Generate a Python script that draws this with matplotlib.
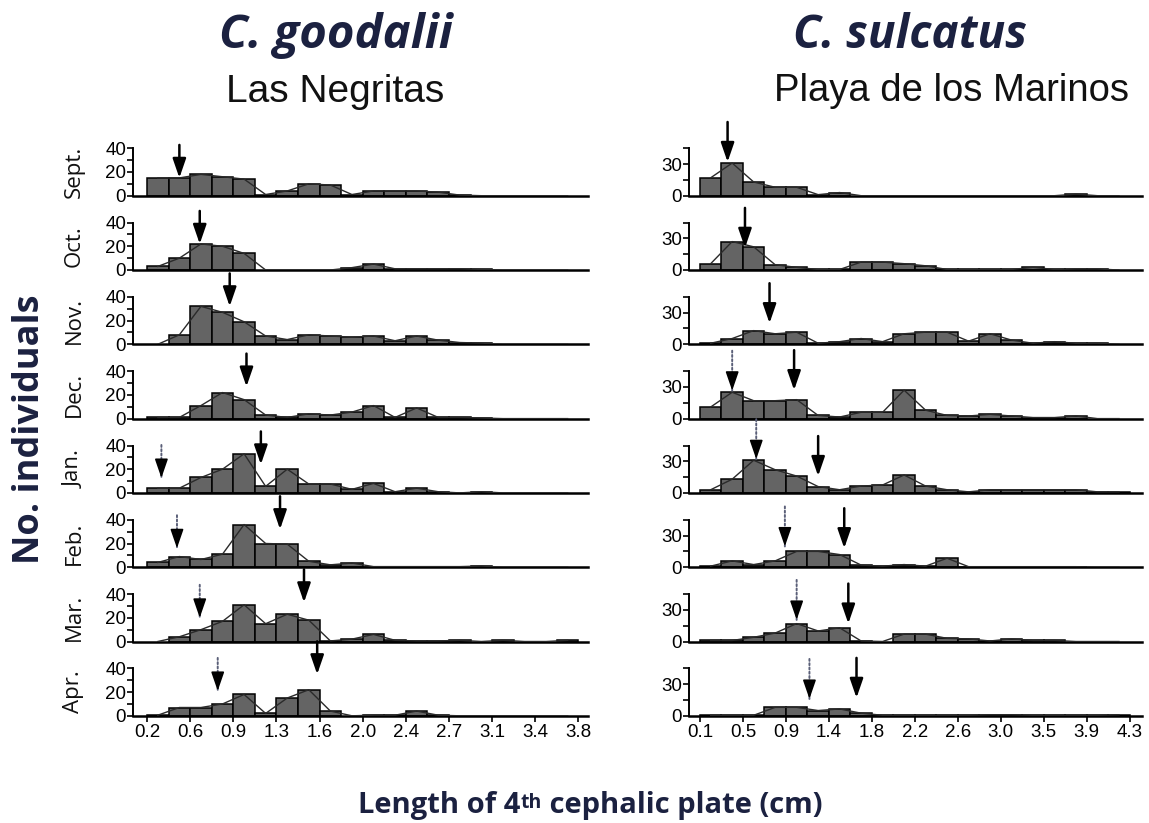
import numpy as np
import matplotlib
matplotlib.use("Agg")
import matplotlib.pyplot as plt

# ---------------- data ----------------
months = ["Sept.", "Oct.", "Nov.", "Dec.", "Jan.", "Feb.", "Mar.", "Apr."]

# C. goodalii (Las Negritas): 20 bins of 0.18 cm starting at 0.2 cm
left_start, left_bw, left_nbins = 0.2, 0.18, 20
left_counts = {
    "Sept.": [15, 15, 18, 16, 14, 1, 4, 10, 9, 1, 4, 4, 4, 3, 0.5, 0, 0, 0, 0, 0],
    "Oct.":  [3, 10, 22, 20, 14, 0, 0, 0, 0, 2, 5, 1, 1, 1, 1, 0.5, 0, 0, 0, 0],
    "Nov.":  [0, 8, 32, 27, 19, 7, 4, 8, 7, 6, 7, 3, 7, 3.5, 1.5, 1, 0, 0, 0, 0],
    "Dec.":  [1, 1, 11, 22, 16, 3, 1, 4, 3, 5.5, 11, 1, 9, 1, 1, 0.5, 0, 0, 0, 0],
    "Jan.":  [4, 4, 13, 20, 33, 5.5, 20, 7.5, 7.5, 3, 8, 1, 4, 1, 0, 1, 0, 0, 0, 0],
    "Feb.":  [4, 9, 6.5, 11, 36, 20, 19.5, 5, 2, 3.5, 0.5, 0.5, 0.5, 0.5, 0.5, 1, 0, 0, 0, 0],
    "Mar.":  [0, 4, 10, 17, 31, 15, 23, 18, 0.5, 2, 6, 1, 0.5, 0.5, 1, 0, 1, 0, 0, 1],
    "Apr.":  [0.5, 7, 7, 10, 18, 2, 15, 22, 4, 0, 0.5, 0.5, 4, 0.5, 0, 0, 0, 0, 0, 0],
}
left_ticklabels = ["0.2", "0.6", "0.9", "1.3", "1.6", "2.0", "2.4", "2.7", "3.1", "3.4", "3.8"]
left_solid_x = [0.47, 0.64, 0.89, 1.03, 1.15, 1.31, 1.51, 1.62]
left_solid_tip = [15, 22, 32, 27, 24, 32, 33, 35]
left_dotted_x = [None, None, None, None, 0.32, 0.45, 0.64, 0.79]
left_dotted_tip = [None, None, None, None, 12.6, 16, 20, 21]

# C. sulcatus (Playa de los Marinos): 20 bins of 0.21 cm starting at 0.1 cm
right_start, right_bw, right_nbins = 0.1, 0.21, 20
right_counts = {
    "Sept.": [17, 31, 13, 8, 8, 1, 3, 0, 0, 0, 0, 0, 0, 0, 0, 0, 0, 1.5, 0, 0],
    "Oct.":  [6, 27, 22, 5, 2.5, 0.5, 0.5, 7.5, 7.5, 6, 4, 0.5, 0.5, 0.5, 0.5, 2.5, 0.5, 1, 1, 0],
    "Nov.":  [1, 5.5, 13, 10, 11.5, 1, 2.5, 5.5, 2.5, 10, 11.5, 11.5, 3, 10, 4, 1, 2.5, 1, 1, 0],
    "Dec.":  [11, 25, 17, 17, 18, 3, 1.5, 6, 6, 27, 8, 3, 2.5, 4, 2.5, 1, 1, 2.5, 0, 0],
    "Jan.":  [3, 13, 31, 22, 16, 6, 3, 6.5, 7.5, 17, 6.5, 3, 1, 3, 3, 3, 3, 3, 1, 1],
    "Feb.":  [1, 6, 2.5, 6, 15, 15, 12, 2, 1, 2.5, 1, 8.5, 0.5, 0.5, 0.5, 0.5, 0.5, 0.5, 0, 0],
    "Mar.":  [1, 1, 4, 8, 17, 10, 13, 0.5, 0, 7, 7, 3, 2.5, 0.5, 2.5, 1, 1, 0, 0, 0],
    "Apr.":  [0.5, 0.5, 0.5, 8, 8, 5, 6.5, 2.5, 0.5, 0.5, 0.5, 0.5, 0.5, 1, 1, 0.5, 0.5, 0.5, 0.5, 1],
}
right_ticklabels = ["0.1", "0.5", "0.9", "1.4", "1.8", "2.2", "2.6", "3.0", "3.5", "3.9", "4.3"]
right_solid_x = [0.37, 0.54, 0.78, 1.02, 1.255, 1.51, 1.55, 1.63]
right_solid_tip = [32, 21, 20, 27, 16, 18, 17, 17]
right_dotted_x = [None, None, None, 0.415, 0.65, 0.93, 1.045, 1.17]
right_dotted_tip = [None, None, None, 26.5, 32, 19.7, 20.5, 16]

# ---------------- figure ----------------
W, H = 1149, 823
fig = plt.figure(figsize=(W / 100, H / 100), dpi=100)

NAVY = "#1b2140"
BAR = "#646464"
TICKFONT = ["Liberation Sans", "DejaVu Sans"]
HUMFONT = ["Open Sans", "DejaVu Sans"]

row_y0 = [195.7 + 74.3 * k for k in range(8)]
ax_h = 47.4
HEAD = "-|>,head_length=0.58,head_width=0.2"


def draw_arrow(ax, x, tip, length_px, dotted):
    ax.annotate(
        "", xy=(x, tip), xycoords="data",
        xytext=(0, length_px * 0.72), textcoords="offset points",
        arrowprops=dict(
            arrowstyle=HEAD if not dotted else "-",
            mutation_scale=20,
            color="#5a5f78" if dotted else "black",
            lw=1.4 if dotted else 1.8,
            linestyle=(0, (1, 1.2)) if dotted else "-",
            shrinkA=0, shrinkB=0,
        ),
        annotation_clip=False, zorder=6,
    )
    if dotted:
        # solid black head below the dotted shaft
        ax.annotate(
            "", xy=(x, tip), xycoords="data",
            xytext=(0, 10), textcoords="offset points",
            arrowprops=dict(
                arrowstyle=HEAD, mutation_scale=20, color="black", lw=1.2,
                shrinkA=0, shrinkB=0,
            ),
            annotation_clip=False, zorder=7,
        )


def panel(ax, counts, start, bw, nbins, xlim, ylim, majors, minors,
          ticklabels, bottom, solid, dotted, arrow_len):
    edges = start + bw * np.arange(nbins)
    counts = np.asarray(counts, dtype=float)
    mask = counts > 0
    ax.bar(edges[mask], counts[mask], width=bw, align="edge", color=BAR,
           edgecolor="black", linewidth=1.1, zorder=2)
    ax.plot(edges + bw / 2, counts, color="#2a2a2a", lw=1.0, zorder=3)
    ax.set_xlim(*xlim)
    ax.set_ylim(*ylim)
    for s in ("top", "right"):
        ax.spines[s].set_visible(False)
    ax.spines["left"].set_linewidth(1.4)
    ax.spines["bottom"].set_linewidth(1.8)
    ax.set_yticks(majors)
    ax.set_yticks(minors, minor=True)
    ax.set_yticklabels([str(m) for m in majors], family=TICKFONT, fontsize=13.5)
    ax.tick_params(axis="y", which="both", direction="out", length=4, width=1.2, pad=1)
    if bottom:
        tpos = start + bw * np.arange(0, nbins + 1, 2)
        ax.set_xticks(tpos)
        ax.set_xticklabels(ticklabels, family=TICKFONT, fontsize=13.5)
        ax.tick_params(axis="x", direction="out", length=4, width=1.2, pad=2)
    else:
        ax.set_xticks([])
    if solid is not None:
        draw_arrow(ax, solid[0], solid[1], arrow_len, False)
    if dotted is not None and dotted[0] is not None:
        draw_arrow(ax, dotted[0], dotted[1], arrow_len, True)


for k, m in enumerate(months):
    bottom_frac = 1 - row_y0[k] / H
    axl = fig.add_axes([133 / W, bottom_frac, 455 / W, ax_h / H])
    panel(axl, left_counts[m], left_start, left_bw, left_nbins,
          (0.083, 3.88), (0, 40), [0, 20, 40], [10, 30], left_ticklabels,
          k == 7, (left_solid_x[k], left_solid_tip[k]),
          (left_dotted_x[k], left_dotted_tip[k]), 33)
    axr = fig.add_axes([689 / W, bottom_frac, 453 / W, ax_h / H])
    panel(axr, right_counts[m], right_start, right_bw, right_nbins,
          (-0.007, 4.42), (0, 45), [0, 30], [15, 45], right_ticklabels,
          k == 7, (right_solid_x[k], right_solid_tip[k]),
          (right_dotted_x[k], right_dotted_tip[k]), 40)
    fig.text(74 / W, 1 - (row_y0[k] - ax_h / 2) / H, m, rotation=90,
             ha="center", va="center", fontsize=16, family=HUMFONT, color="#111")

# titles
fig.text(336 / W, 1 - 48 / H, "C. goodalii", ha="center", va="baseline",
         fontsize=34, fontweight="bold", fontstyle="italic", family=HUMFONT, color=NAVY)
fig.text(335 / W, 1 - 102 / H, "Las Negritas", ha="center", va="baseline",
         fontsize=28, family=TICKFONT, color="#111")
fig.text(910 / W, 1 - 48 / H, "C. sulcatus", ha="center", va="baseline",
         fontsize=33, fontweight="bold", fontstyle="italic", family=HUMFONT, color=NAVY)
fig.text(952 / W, 1 - 101 / H, "Playa de los Marinos", ha="center", va="baseline",
         fontsize=27.5, family=TICKFONT, color="#111")

# y label
fig.text(30 / W, 1 - 429 / H, "No. individuals", rotation=90, ha="center", va="center",
         fontsize=26, fontweight="bold", family=HUMFONT, color=NAVY)

# x label with small "th"
renderer = fig.canvas.get_renderer()
parts = [("Length of 4", 21, 0), ("th", 14, 5), (" cephalic plate (cm)", 21, 0)]
texts = []
for s, fs, dy in parts:
    t = fig.text(0, 0, s, fontsize=fs, fontweight="bold", family=HUMFONT,
                 color=NAVY, va="baseline", ha="left")
    texts.append((t, dy))
widths = [t.get_window_extent(renderer).width for t, _ in texts]
total = sum(widths)
x = 590 - total / 2
base = 813
for (t, dy), w in zip(texts, widths):
    t.set_position((x / W, 1 - (base - dy) / H))
    x += w

fig.savefig("out.png", dpi=100)
